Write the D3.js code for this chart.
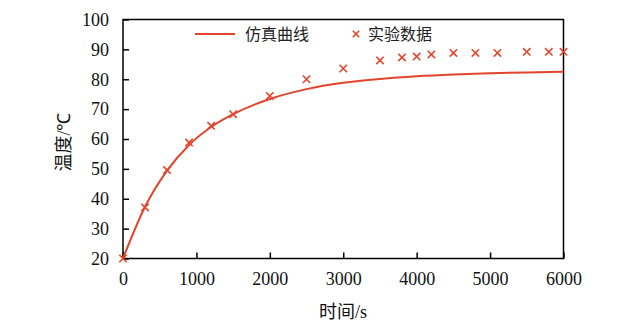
<!DOCTYPE html>
<html><head><meta charset="utf-8">
<script src="https://cdn.jsdelivr.net/npm/d3@7"></script>
<style>body{margin:0;background:#fff}</style>
</head><body>
<svg id="c" width="619" height="334"></svg>
<script>
const simTime = [0,300,600,900,1200,1500,2000,2500,3000,3500,4000,4500,5000,5500,6000];
const simTemp = [20,37.3,49.4,58.0,64.0,68.3,73.4,76.7,78.8,80.1,81.0,81.6,82.0,82.3,82.5];
const expTime = [0,300,600,900,1200,1500,2000,2500,3000,3500,3800,4000,4200,4500,4800,5100,5500,5800,6000];
const expTemp = [20,37.1,49.6,58.8,64.4,68.3,74.4,80.0,83.6,86.3,87.3,87.6,88.3,88.8,88.8,88.8,89.2,89.2,89.2];
const xTicks = [0,1000,2000,3000,4000,5000,6000];
const yTicks = [20,30,40,50,60,70,80,90,100];
const seriesNames = ["仿真曲线","实验数据"];
const xTitle = ["时间","/s"], yTitle = ["温度","/℃"];

const red = "#e2452b";
const svg = d3.select("#c");
const L=123, R=563.5, T=19.5, B=258.5;
const x = d3.scaleLinear().domain([0,6000]).range([L,R]);
const y = d3.scaleLinear().domain([20,100]).range([B,T]);
const cjk = "Noto Sans CJK SC";
const serif = "Times New Roman, Liberation Serif, serif";

const gx = svg.append("g").attr("transform",`translate(0,${B})`)
  .call(d3.axisBottom(x).tickValues(xTicks).tickSize(-6).tickPadding(14).tickFormat(d3.format("d")));
const gy = svg.append("g").attr("transform",`translate(${L},0)`)
  .call(d3.axisLeft(y).tickValues(yTicks).tickSize(-6).tickPadding(14).tickFormat(d3.format("d")));
[gx,gy].forEach(g=>{
  g.attr("font-family",serif).attr("font-size",18);
  g.select(".domain").remove();
  g.selectAll(".tick line").attr("stroke","#000").attr("stroke-width",1.5);
  g.selectAll("text").attr("fill","#111");
});
gx.selectAll("text").attr("dy","0.71em");
svg.append("rect").attr("x",L).attr("y",T).attr("width",R-L).attr("height",B-T)
  .attr("fill","none").attr("stroke","#000").attr("stroke-width",1.5);

const line = d3.line().x((d,i)=>x(simTime[i])).y(d=>y(d)).curve(d3.curveMonotoneX);
svg.append("path").datum(simTemp).attr("d",line).attr("fill","none")
  .attr("stroke",red).attr("stroke-width",2);

const cross = (g,cx,cy,s)=>g.append("path")
  .attr("d",`M${cx-s},${cy-s}L${cx+s},${cy+s}M${cx-s},${cy+s}L${cx+s},${cy-s}`)
  .attr("stroke",red).attr("stroke-width",1.6).attr("fill","none");
const mg = svg.append("g");
expTime.forEach((t,i)=>cross(mg,x(t),y(expTemp[i]),3.7));

svg.append("line").attr("x1",195).attr("x2",235).attr("y1",34).attr("y2",34)
  .attr("stroke",red).attr("stroke-width",2);
svg.append("text").attr("x",245).attr("y",40).text(seriesNames[0])
  .attr("font-family",cjk).attr("font-size",16).attr("fill","#222");
cross(svg,356,34,3.2);
svg.append("text").attr("x",368).attr("y",40).text(seriesNames[1])
  .attr("font-family",cjk).attr("font-size",16).attr("fill","#222");

function title(t, parts){
  t.attr("font-family",cjk).attr("font-size",18).attr("fill","#111").attr("text-anchor","middle");
  t.append("tspan").text(parts[0]);
  t.append("tspan").attr("font-family",serif).text(parts[1]);
}
title(svg.append("text").attr("x",343).attr("y",318), xTitle);
title(svg.append("text").attr("transform","translate(70,142) rotate(-90)"), yTitle);
</script>
</body></html>
